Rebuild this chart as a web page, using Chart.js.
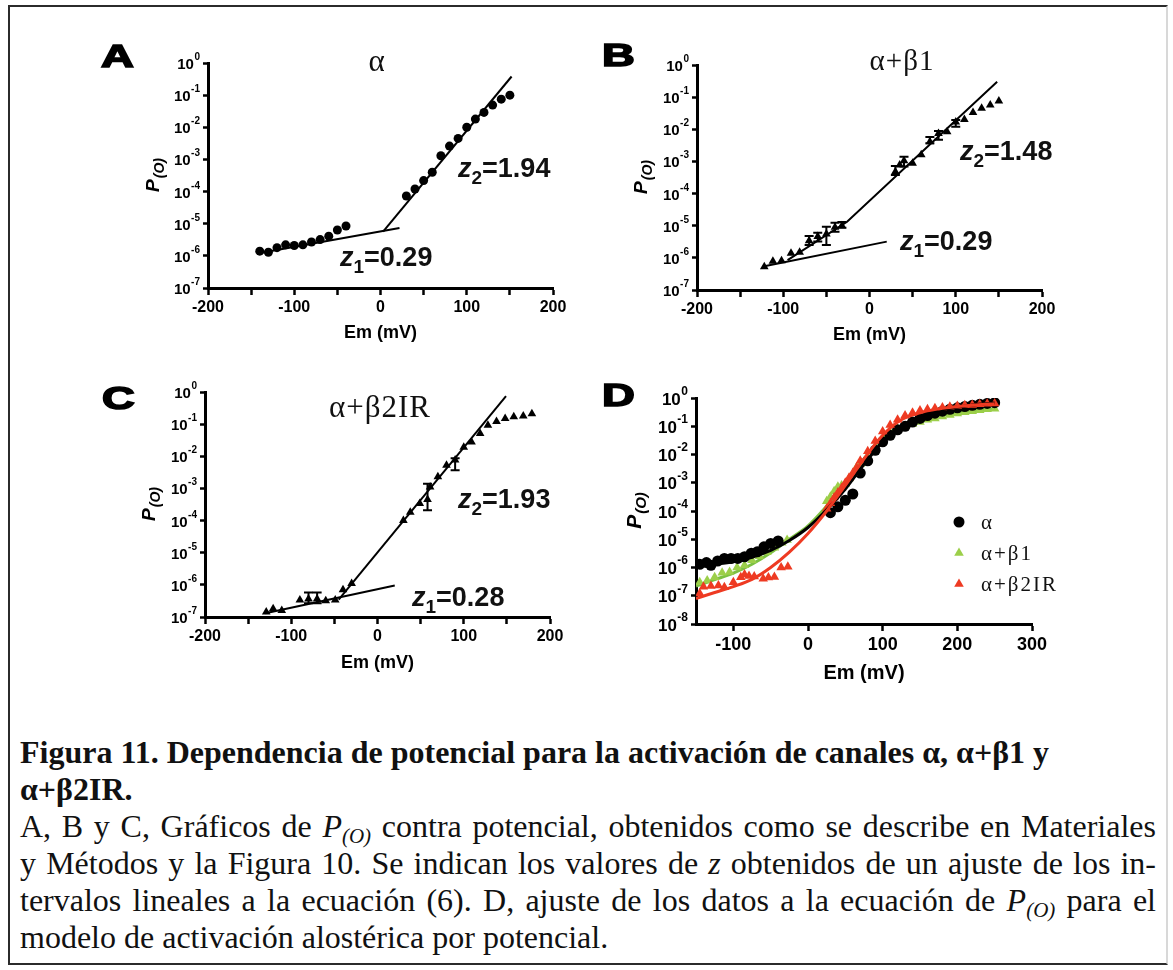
<!DOCTYPE html>
<html lang="es">
<head>
<meta charset="utf-8">
<title>Figura 11</title>
<script src="https://cdn.jsdelivr.net/npm/chart.js@4.4.1/dist/chart.umd.min.js"></script>
<style>
  html, body { margin: 0; padding: 0; background: #fff; }
  #page { position: relative; width: 1173px; height: 970px; overflow: hidden; background: #fff; }
  #frame { position: absolute; left: 8px; top: 5px; width: 1156px; height: 956px; border: 2px solid #2b2b2b; border-right-color: #d8d8d8; }
  canvas { position: absolute; }
  .letter { position: absolute; font: bold 32px "Liberation Sans", Arial, sans-serif; line-height: 1; transform-origin: left top; transform: scaleX(1.42); -webkit-text-stroke: 1.6px #000; color: #000; }
  .ttl { position: absolute; font: 29px "Liberation Serif", "Times New Roman", serif; line-height: 1; white-space: nowrap; letter-spacing: 1px; transform: translateX(-50%); color: #111; }
  .z { position: absolute; font: bold 27px "Liberation Sans", Arial, sans-serif; line-height: 1; white-space: nowrap; color: #111; }
  .z i { font-style: italic; }
  .z sub { font-size: 19px; vertical-align: -7px; line-height: 0; }
  #caption { position: absolute; left: 20px; top: 734px; width: 1136px; font-family: "Liberation Serif", "Times New Roman", serif; font-size: 32px; line-height: 37px; color: #111; }
  #caption .b { font-weight: bold; }
  #caption .j { text-align: justify; text-align-last: justify; }
  #caption sub { font-size: 21px; vertical-align: -6px; line-height: 0; }
</style>
</head>
<body>
<div id="page">
  <div id="frame"></div>
  <canvas id="chartA"></canvas>
  <canvas id="chartB"></canvas>
  <canvas id="chartC"></canvas>
  <canvas id="chartD"></canvas>

  <div class="letter" style="left:101px; top:40px;">A</div>
  <div class="letter" style="left:602px; top:39px;">B</div>
  <div class="letter" style="left:102px; top:382px;">C</div>
  <div class="letter" style="left:602px; top:379px;">D</div>

  <div class="ttl" style="left:377px; top:45px; font-size:31px;">α</div>
  <div class="ttl" style="left:902px; top:46px;">α+β1</div>
  <div class="ttl" style="left:380px; top:391px; font-size:31px;">α+β2IR</div>

  <div class="z" style="left:458px; top:155px;"><i>z</i><sub>2</sub>=1.94</div>
  <div class="z" style="left:340px; top:244px;"><i>z</i><sub>1</sub>=0.29</div>
  <div class="z" style="left:960px; top:138px;"><i>z</i><sub>2</sub>=1.48</div>
  <div class="z" style="left:900px; top:228px;"><i>z</i><sub>1</sub>=0.29</div>
  <div class="z" style="left:458px; top:486px;"><i>z</i><sub>2</sub>=1.93</div>
  <div class="z" style="left:412px; top:584px;"><i>z</i><sub>1</sub>=0.28</div>

  <div id="caption">
    <div class="b">Figura 11. Dependencia de potencial para la activación de canales α, α+β1 y</div>
    <div class="b">α+β2IR.</div>
    <div class="j">A, B y C, Gráficos de <i>P<sub>(O)</sub></i> contra potencial, obtenidos como se describe en Materiales</div>
    <div class="j">y Métodos y la Figura 10. Se indican los valores de <i>z</i> obtenidos de un ajuste de los in-</div>
    <div class="j">tervalos lineales a la ecuación (6). D, ajuste de los datos a la ecuación de <i>P<sub>(O)</sub></i> para el</div>
    <div>modelo de activación alostérica por potencial.</div>
  </div>
</div>

<script>
// ---- panel A: alpha ----
const aEm = [-140, -130, -120, -110, -100, -90, -80, -70, -60, -50, -40,
  30, 40, 50, 60, 70, 80, 90, 100, 110, 120, 130, 140, 150];
const aP = [1.4e-6, 1.3e-6, 1.8e-6, 2.2e-6, 2.1e-6, 2.2e-6, 2.7e-6, 3.2e-6, 4.1e-6, 6.4e-6, 8.5e-6,
  7.3e-5, 1.2e-4, 2.2e-4, 4.0e-4, 1.3e-3, 2.6e-3, 4.5e-3, 1.0e-2, 1.8e-2, 2.9e-2, 4.9e-2, 7.5e-2, 1.0e-1];
const aFit1Em = [-138, 22];
const aFit1P = [1.25e-6, 7.3e-6];
const aFit2Em = [3, 152];
const aFit2P = [5.7e-6, 0.38];

// ---- panel B: alpha + beta1 ----
const bEm = [-122, -112, -102, -91, -81, -70, -60, -50, -40, -32,
  30, 35, 40, 50, 60, 70, 80, 90, 100, 110, 120, 130, 140, 150];
const bP = [5.3e-7, 7.9e-7, 8.1e-7, 1.4e-6, 1.5e-6, 3.4e-6, 4.6e-6, 5.5e-6, 9.0e-6, 1.0e-5,
  4.8e-4, 7.8e-4, 1.05e-3, 8.7e-4, 1.6e-3, 4.1e-3, 7.4e-3, 8.4e-3, 1.7e-2, 2.0e-2, 3.3e-2, 4.5e-2, 5.7e-2, 7.6e-2];
const bErrHi = [null, null, null, null, null, 4.8e-6, 6.0e-6, 9.3e-6, 1.23e-5, 1.3e-5,
  7.2e-4, null, 1.4e-3, null, null, 5.8e-3, 8.9e-3, null, 1.95e-2, null, null, null, null, null];
const bErrLo = [null, null, null, null, null, 2.5e-6, 3.2e-6, 2.5e-6, 6.5e-6, 8.7e-6,
  3.8e-4, null, 6.9e-4, null, null, 3.7e-3, 4.7e-3, null, 1.2e-2, null, null, null, null, null];
const bFit1Em = [-122, 20];
const bFit1P = [5.5e-7, 3.2e-6];
const bFit2Em = [-95, -26, 148];
const bFit2P = [8.5e-7, 1.33e-5, 0.30];

// ---- panel C: alpha + beta2IR ----
const cEm = [-129, -121, -111, -90, -80, -70, -60, -49, -40, -30,
  30, 38, 49, 58, 61, 70, 80, 90, 100, 109, 119, 128, 138, 148, 158, 169, 179];
const cP = [1.42e-7, 1.8e-7, 1.6e-7, 3.4e-7, 3.6e-7, 3.6e-7, 3.2e-7, 3.4e-7, 7.0e-7, 1.1e-6,
  1.0e-4, 1.8e-4, 3.4e-4, 4.5e-4, 1.1e-3, 2.3e-3, 5.3e-3, 7.6e-3, 1.9e-2, 2.8e-2, 5.1e-2, 9.3e-2, 0.12, 0.15, 0.17, 0.18, 0.21];
const cErrHi = [null, null, null, null, 5.8e-7, 5.8e-7, null, null, null, null,
  null, null, null, 1.4e-3, null, null, null, 8.7e-3, null, null, null, null, null, null, null, null, null];
const cErrLo = [null, null, null, null, 2.7e-7, 2.7e-7, null, null, null, null,
  null, null, null, 2.1e-4, null, null, null, 3.7e-3, null, null, null, null, null, null, null, null, null];
const cFit1Em = [-130, 20];
const cFit1P = [1.3e-7, 9.6e-7];
const cFit2Em = [-45, 149];
const cFit2P = [3.5e-7, 0.74];

// ---- panel D: allosteric model fits ----
const dAlphaEm = [-145, -136, -130, -121, -112, -103, -94, -85, -76, -68, -59, -50, -40,
  30, 40, 50, 60, 70, 80, 90, 100, 110, 120, 130, 140, 150, 160, 170, 180, 190, 200, 210, 220, 230, 240, 250];
const dAlphaP = [1.3e-6, 1.5e-6, 1.2e-6, 1.7e-6, 2.1e-6, 2.1e-6, 2.1e-6, 2.4e-6, 3.2e-6, 3.6e-6, 5.4e-6, 7.1e-6, 8.7e-6,
  8.7e-5, 1.4e-4, 2.4e-4, 4.0e-4, 2.2e-3, 6.0e-3, 1.4e-2, 2.8e-2, 4.8e-2, 7.5e-2, 0.10, 0.14, 0.19, 0.24, 0.29, 0.34, 0.40, 0.45, 0.50, 0.55, 0.60, 0.64, 0.68];
const dBeta1Em = [-145, -135, -125, -115, -105, -95, -85, -75, -65, -55, -45, -35, -28,
  25, 30, 35, 40, 45, 50, 55, 60, 65, 70, 80, 90, 100, 110, 120, 130, 140, 150, 160, 170, 180, 190, 200, 210, 220, 230, 240, 250];
const dBeta1P = [3.0e-7, 3.5e-7, 4.5e-7, 6.5e-7, 7.0e-7, 1.0e-6, 1.2e-6, 1.8e-6, 2.5e-6, 3.5e-6, 5.0e-6, 7.5e-6, 9.5e-6,
  2.2e-4, 3.2e-4, 5.0e-4, 7.2e-4, 8.0e-4, 9.0e-4, 1.4e-3, 2.0e-3, 3.5e-3, 4.5e-3, 8.0e-3, 1.8e-2, 3.5e-2, 6.0e-2, 8.0e-2, 0.10, 0.12, 0.14, 0.17, 0.19, 0.22, 0.25, 0.28, 0.31, 0.34, 0.37, 0.40, 0.42];
const dBeta2Em = [-145, -140, -130, -120, -112, -100, -90, -85, -79, -72, -60, -53, -45, -36, -27,
  25, 30, 35, 40, 45, 50, 55, 60, 65, 70, 80, 90, 100, 110, 120, 130, 140, 150, 160, 170, 180, 190, 200, 210, 220, 230, 240, 250];
const dBeta2P = [1.2e-7, 2.1e-7, 2.2e-7, 2.3e-7, 2.0e-7, 3.0e-7, 4.5e-7, 5.6e-7, 5.0e-7, 4.8e-7, 4.0e-7, 4.4e-7, 4.6e-7, 1.0e-6, 1.07e-6,
  1.2e-4, 1.9e-4, 3.0e-4, 4.5e-4, 6.5e-4, 1.0e-3, 1.5e-3, 2.2e-3, 3.5e-3, 6.0e-3, 1.3e-2, 3.0e-2, 6.5e-2, 0.11, 0.17, 0.24, 0.30, 0.36, 0.40, 0.43, 0.46, 0.49, 0.52, 0.55, 0.57, 0.60, 0.62, 0.64];
const dFitEm = [-150, -125, -100, -75, -50, -25, 0, 25, 50, 75, 100, 125, 150, 175, 200, 225, 250];
const dAlphaFitP = [1.1e-6, 1.3e-6, 1.6e-6, 2.3e-6, 4.0e-6, 9.0e-6, 2.6e-5, 1.1e-4, 6.0e-4, 4.5e-3, 2.8e-2, 0.10, 0.22, 0.36, 0.48, 0.58, 0.66];
const dBeta1FitP = [2.2e-7, 3.7e-7, 6.3e-7, 1.3e-6, 3.3e-6, 1.0e-5, 3.0e-5, 1.5e-4, 9.0e-4, 7.0e-3, 4.0e-2, 0.10, 0.16, 0.23, 0.30, 0.36, 0.42];
const dBeta2FitP = [8.0e-8, 1.3e-7, 2.1e-7, 3.8e-7, 1.0e-6, 3.5e-6, 1.6e-5, 1.0e-4, 8.0e-4, 7.0e-3, 4.8e-2, 0.17, 0.30, 0.41, 0.50, 0.57, 0.63];

// ---- axes ----
const abcXTicks = [-200, -150, -100, -50, 0, 50, 100, 150, 200];
const abcXLabels = [-200, -100, 0, 100, 200];
const dXTicks = [-100, 0, 100, 200, 300];
const abcYTicks = [1e-7, 1e-6, 1e-5, 1e-4, 1e-3, 1e-2, 1e-1, 1];
const dYTicks = [1e-8, 1e-7, 1e-6, 1e-5, 1e-4, 1e-3, 1e-2, 1e-1, 1];

const SANS = '"Liberation Sans", Arial, Helvetica, sans-serif';
const SERIF = '"Liberation Serif", "Times New Roman", serif';
const GREEN = '#9ccf4a';
const GREEN_LINE = '#7cc142';
const RED = '#ee3a22';

function pts(xs, ys) {
  return xs.map((x, i) => ({ x: x, y: ys[i] }));
}

// error bars drawn through the chart's own scales
const errorBars = {
  id: 'errorBars',
  afterDatasetsDraw(chart) {
    const { ctx, scales } = chart;
    chart.data.datasets.forEach(ds => {
      if (!ds.errHigh) return;
      ctx.save();
      ctx.strokeStyle = '#000';
      ctx.lineWidth = 2;
      ds.data.forEach((p, j) => {
        const hi = ds.errHigh[j];
        const lo = ds.errLow[j];
        if (hi == null) return;
        const px = scales.x.getPixelForValue(p.x);
        const y1 = scales.y.getPixelForValue(hi);
        const y2 = scales.y.getPixelForValue(lo);
        ctx.beginPath();
        ctx.moveTo(px, y1); ctx.lineTo(px, y2);
        ctx.moveTo(px - 4.5, y1); ctx.lineTo(px + 4.5, y1);
        ctx.moveTo(px - 4.5, y2); ctx.lineTo(px + 4.5, y2);
        ctx.stroke();
      });
      ctx.restore();
    });
  }
};

// decade labels "10" with a raised exponent, at the y scale's own ticks
const powerTicks = {
  id: 'powerTicks',
  afterDraw(chart, args, opts) {
    const { ctx } = chart;
    const ys = chart.scales.y;
    const size = opts.size || 15;
    const right = ys.right - 5 - 3;
    ctx.save();
    ctx.fillStyle = '#000';
    ctx.textBaseline = 'middle';
    ctx.textAlign = 'left';
    ys.ticks.forEach(t => {
      const py = ys.getPixelForValue(t.value);
      const exp = String(Math.round(Math.log10(t.value)));
      ctx.font = 'bold ' + Math.round(size * 0.68) + 'px ' + SANS;
      const we = ctx.measureText(exp).width;
      ctx.fillText(exp, right - we, py - size * 0.38);
      ctx.font = 'bold ' + size + 'px ' + SANS;
      const wb = ctx.measureText('10').width;
      ctx.fillText('10', right - we - wb - 0.5, py + size * 0.12);
    });
    ctx.restore();
  }
};

// rotated P(O) with subscript
const yTitle = {
  id: 'yTitle',
  afterDraw(chart, args, opts) {
    const { ctx, chartArea: a } = chart;
    const size = opts.size || 17;
    const big = 'italic bold ' + size + 'px ' + SANS;
    const small = 'italic bold ' + Math.round(size * 0.72) + 'px ' + SANS;
    ctx.save();
    ctx.translate(a.left - opts.offset, (a.top + a.bottom) / 2);
    ctx.rotate(-Math.PI / 2);
    ctx.fillStyle = '#000';
    ctx.font = big;
    const wP = ctx.measureText('P').width;
    ctx.font = small;
    const wS = ctx.measureText('(O)').width;
    const x0 = -(wP + wS) / 2;
    ctx.font = big;
    ctx.fillText('P', x0, size * 0.36);
    ctx.font = small;
    ctx.fillText('(O)', x0 + wP + 1, size * 0.36 + size * 0.28);
    ctx.restore();
  }
};

// legend placed inside the plot area of D
const insideLegend = {
  id: 'insideLegend',
  afterDraw(chart, args, opts) {
    if (!opts.items) return;
    const { ctx, chartArea: a } = chart;
    ctx.save();
    ctx.font = opts.size + 'px ' + SERIF;
    ctx.letterSpacing = '2px';
    ctx.textBaseline = 'middle';
    opts.items.forEach((idx, k) => {
      const ds = chart.data.datasets[idx];
      const mx = a.left + opts.x;
      const my = a.top + opts.y + k * opts.gap;
      ctx.fillStyle = ds.backgroundColor;
      ctx.beginPath();
      if (ds.pointStyle === 'triangle') {
        const r = ds.pointRadius;
        ctx.moveTo(mx, my - r);
        ctx.lineTo(mx + r * 0.87, my + r * 0.5);
        ctx.lineTo(mx - r * 0.87, my + r * 0.5);
        ctx.closePath();
      } else {
        ctx.arc(mx, my, ds.pointRadius, 0, Math.PI * 2);
      }
      ctx.fill();
      ctx.fillStyle = '#111';
      ctx.fillText(ds.label, mx + opts.textDx, my + 1);
    });
    ctx.restore();
  }
};

function makePanel(id, box, axes, datasets, legendOpts) {
  const cv = document.getElementById(id);
  cv.width = box.w;
  cv.height = box.h;
  cv.style.left = box.left + 'px';
  cv.style.top = box.top + 'px';
  const a = box.area;
  const yW = 70;
  const titleLH = axes.titleSize * 1.2;
  return new Chart(cv, {
    type: 'scatter',
    data: { datasets: datasets },
    options: {
      responsive: false,
      animation: false,
      events: [],
      layout: {
        padding: { left: a.l - box.left - yW, top: a.t - box.top, right: box.left + box.w - a.r, bottom: 0 }
      },
      plugins: {
        legend: { display: false },
        tooltip: { enabled: false },
        yTitle: { offset: box.yTitleOffset, size: axes.yTitleSize },
        powerTicks: { size: axes.yTickSize },
        insideLegend: legendOpts || {}
      },
      scales: {
        x: {
          type: 'linear',
          min: axes.xMin,
          max: axes.xMax,
          afterFit: s => { s.height = box.top + box.h - a.b; },
          afterBuildTicks: s => { s.ticks = axes.xTicks.map(v => ({ value: v })); },
          border: { display: true, color: '#000', width: 3 },
          grid: { display: true, drawOnChartArea: false, drawTicks: true, tickLength: 7, tickWidth: 2.5, tickColor: '#000' },
          ticks: {
            autoSkip: false, maxRotation: 0, padding: 3, color: '#000',
            font: { family: SANS, weight: 'bold', size: axes.xTickSize },
            callback: v => axes.xLabels.includes(v) ? String(v) : ''
          },
          title: {
            display: true, text: 'Em (mV)', color: '#000',
            font: { family: SANS, weight: 'bold', size: axes.titleSize },
            padding: { top: 0, bottom: box.top + box.h - box.titleY - titleLH / 2 }
          }
        },
        y: {
          type: 'logarithmic',
          min: axes.yTicks[0],
          max: axes.yTicks[axes.yTicks.length - 1],
          afterFit: s => { s.width = yW; },
          afterBuildTicks: s => { s.ticks = axes.yTicks.map(v => ({ value: v })); },
          border: { display: true, color: '#000', width: 3 },
          grid: { display: true, drawOnChartArea: false, drawTicks: true, tickLength: 5, tickWidth: 2.5, tickColor: '#000' },
          ticks: { display: false, autoSkip: false }
        }
      }
    },
    plugins: [errorBars, powerTicks, yTitle, insideLegend]
  });
}

function scatterSet(label, xs, ys, style, color, radius, extra) {
  return Object.assign({
    label: label, data: pts(xs, ys), pointStyle: style,
    pointRadius: radius, pointBorderWidth: 0,
    backgroundColor: color, borderColor: color, showLine: false
  }, extra || {});
}

function fitSet(label, xs, ys, color, width, smooth) {
  return {
    label: label, data: pts(xs, ys), showLine: true, pointRadius: 0,
    borderColor: color, backgroundColor: color, borderWidth: width,
    cubicInterpolationMode: smooth ? 'monotone' : 'default', tension: 0
  };
}

const abcAxes = { xMin: -200, xMax: 200, xTicks: abcXTicks, xLabels: abcXLabels, yTicks: abcYTicks, xTickSize: 16, yTickSize: 15, titleSize: 18, yTitleSize: 19 };
const dAxes = { xMin: -150, xMax: 300, xTicks: dXTicks, xLabels: dXTicks, yTicks: dYTicks, xTickSize: 18, yTickSize: 17, titleSize: 20, yTitleSize: 21 };

makePanel('chartA',
  { left: 100, top: 40, w: 490, h: 320, area: { l: 208, t: 63, r: 553, b: 288 }, titleY: 333, yTitleOffset: 56 },
  abcAxes,
  [
    fitSet('z1 ajuste', aFit1Em, aFit1P, '#000', 2),
    fitSet('z2 ajuste', aFit2Em, aFit2P, '#000', 2),
    scatterSet('α', aEm, aP, 'circle', '#000', 4.5)
  ]);

makePanel('chartB',
  { left: 590, top: 40, w: 490, h: 320, area: { l: 697, t: 65, r: 1042, b: 290 }, titleY: 335, yTitleOffset: 57 },
  abcAxes,
  [
    fitSet('z1 ajuste', bFit1Em, bFit1P, '#000', 2),
    fitSet('z2 ajuste', bFit2Em, bFit2P, '#000', 2),
    scatterSet('α+β1', bEm, bP, 'triangle', '#000', 5, { errHigh: bErrHi, errLow: bErrLo })
  ]);

makePanel('chartC',
  { left: 100, top: 365, w: 490, h: 320, area: { l: 205, t: 392, r: 550, b: 617 }, titleY: 663, yTitleOffset: 57 },
  abcAxes,
  [
    fitSet('z1 ajuste', cFit1Em, cFit1P, '#000', 2),
    fitSet('z2 ajuste', cFit2Em, cFit2P, '#000', 2),
    scatterSet('α+β2IR', cEm, cP, 'triangle', '#000', 5, { errHigh: cErrHi, errLow: cErrLo })
  ]);

makePanel('chartD',
  { left: 590, top: 370, w: 490, h: 320, area: { l: 696, t: 398, r: 1032, b: 624 }, titleY: 673, yTitleOffset: 63 },
  dAxes,
  [
    scatterSet('α', dAlphaEm, dAlphaP, 'circle', '#000', 5.5, { order: 3 }),
    scatterSet('α+β1', dBeta1Em, dBeta1P, 'triangle', GREEN, 5.5, { order: 4 }),
    scatterSet('α+β2IR', dBeta2Em, dBeta2P, 'triangle', RED, 5.5, { order: 2 }),
    Object.assign(fitSet('α ajuste', dFitEm, dAlphaFitP, '#000', 3, true), { order: 1 }),
    Object.assign(fitSet('α+β1 ajuste', dFitEm, dBeta1FitP, GREEN_LINE, 3, true), { order: 5 }),
    Object.assign(fitSet('α+β2IR ajuste', dFitEm, dBeta2FitP, RED, 3, true), { order: 0 })
  ],
  { items: [0, 1, 2], x: 263, y: 124, gap: 31, textDx: 22, size: 21 });
</script>
</body>
</html>
